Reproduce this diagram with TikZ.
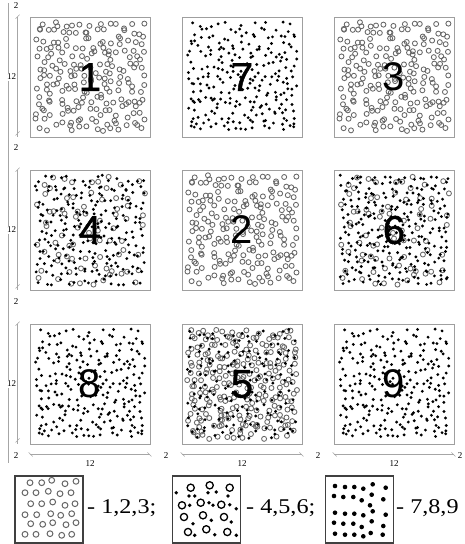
\documentclass[tikz,border=0pt]{standalone}
\usepackage{fontspec}
\setmainfont{Liberation Serif}
\newfontfamily\digitfont{Liberation Sans}
\newfontfamily\heavydigit[FakeBold=1.2]{Liberation Sans}
\newfontfamily\keyfont[FakeStretch=1.15]{Liberation Serif}

\tikzset{
  panel/.style={draw=gray!75, line width=0.8pt, minimum size=120pt, inner sep=0pt,
    font=\digitfont\fontsize{40}{40}\selectfont},
  heavy/.style={font=\heavydigit\fontsize{40}{40}\selectfont},
  ring/.style={draw=black!60, line width=0.85pt},
  speck/.style={fill=black},
  dimline/.style={draw=gray!70, line width=0.5pt},
  dimlabel/.style={font=\fontsize{9}{9}\selectfont, inner sep=1pt},
  keybox/.style={draw=black!75, line width=1.2pt, minimum width=68pt, minimum height=67pt, inner sep=0pt},
  keytext/.style={font=\keyfont\fontsize{21}{21}\selectfont, anchor=base west, inner sep=0pt},
}

% jittered grid of open rings inside a panel
\newcommand{\ringfield}[5]{% x0, y0, cells per side, seed, keep
  \pgfmathsetseed{#4}
  \pgfmathsetmacro{\cell}{110/#3}
  \foreach \i in {1,...,#3}{
    \foreach \j in {1,...,#3}{
      \pgfmathsetmacro{\px}{#1+5+(\i-1+rnd)*\cell}
      \pgfmathsetmacro{\py}{#2+5+(\j-1+rnd)*\cell}
      \pgfmathtruncatemacro{\keep}{rnd<#5}
      \ifnum\keep=1 \draw[ring] (\px,\py) circle[radius=2.5pt];\fi
    }}}
% jittered grid of filled dots inside a panel
\newcommand{\speckfield}[5]{% x0, y0, cells per side, seed, keep
  \pgfmathsetseed{#4}
  \pgfmathsetmacro{\cell}{110/#3}
  \foreach \i in {1,...,#3}{
    \foreach \j in {1,...,#3}{
      \pgfmathsetmacro{\px}{#1+5+(\i-1+rnd)*\cell}
      \pgfmathsetmacro{\py}{#2+5+(\j-1+rnd)*\cell}
      \pgfmathtruncatemacro{\keep}{rnd<#5}
      \ifnum\keep=1 \fill[speck] (\px,\py) circle[radius=1.6pt];\fi
    }}}

\begin{document}
\begin{tikzpicture}[x=1pt, y=-1pt]
  \useasboundingbox (0,0) rectangle (464,544);

  % rings only: 1, 2, 3
  \ringfield{30}{17}{15}{11}{0.9}
  \ringfield{182}{170}{15}{11}{0.9}
  \ringfield{334}{17}{15}{11}{0.9}
  % dots only: 7, 8, 9
  \speckfield{182}{17}{17}{7}{0.85}
  \speckfield{30}{324}{17}{7}{0.85}
  \speckfield{334}{324}{17}{7}{0.85}
  % mixed: 4, 6
  \ringfield{30}{170}{9}{4}{0.95}
  \speckfield{30}{170}{15}{5}{1}
  \ringfield{334}{170}{9}{4}{0.95}
  \speckfield{334}{170}{16}{6}{1}
  % dense mixed: 5
  \ringfield{182}{324}{16}{21}{0.95}
  \speckfield{182}{324}{13}{22}{1}

  % panels
  \node[panel, heavy] (p1) at (90,77) {1};
  \node[panel, heavy] (p7) at (242,77) {7};
  \node[panel] (p3) at (394,77) {3};
  \node[panel, heavy] (p4) at (90,230) {4};
  \node[panel] (p2) at (242,230) {2};
  \node[panel, heavy] (p6) at (394,230) {6};
  \node[panel] (p8) at (90,384) {8};
  \node[panel, heavy] (p5) at (242,384) {5};
  \node[panel] (p9) at (394,384) {9};

  % dimensions, left side
  \draw[dimline] (8,3) -- (8,463);
  \foreach \p in {p1,p4,p8}{
    \draw[dimline] ([xshift=-12pt]\p.north west) -- ([xshift=-12pt]\p.south west);
    \draw[dimline] ([xshift=-14pt,yshift=-2pt]\p.north west) -- ++(4,-4);
    \draw[dimline] ([xshift=-14pt,yshift=2pt]\p.south west) -- ++(4,-4);
    \node[dimlabel, fill=white] at ([xshift=-18pt]\p.west) {12};
  }
  \node[dimlabel] (g0) at (16,6) {2};
  \node[dimlabel] (g1) at (16,148) {2};
  \node[dimlabel] (g2) at (16,302) {2};

  % dimensions, bottom
  \foreach \p in {p8,p5,p9}{
    \draw[dimline] ([yshift=-10pt]\p.south west) -- ([yshift=-10pt]\p.south east);
    \draw[dimline] ([xshift=-1pt,yshift=-8pt]\p.south west) -- ++(4,4);
    \draw[dimline] ([xshift=-3pt,yshift=-8pt]\p.south east) -- ++(4,4);
    \node[dimlabel] at ([yshift=-19pt]\p.south) {12};
  }
  \node[dimlabel] (h0) at (16,456) {2};
  \node[dimlabel] (h1) at (166,456) {2};
  \node[dimlabel] (h2) at (318,456) {2};
  \node[dimlabel] (h3) at (460,456) {2};

  % key
  \node[keybox] (k1) at (49,509.5) {};
  \node[keybox] (k2) at (206.5,509.5) {};
  \node[keybox] (k3) at (359.5,509.5) {};
  \foreach \x/\y in {30/482.7,41.7/482.7,51.7/480.3,65/483.7,76/481.3,
      25/492.7,36/492.7,48.3/491.3,60/493.7,71/492.7,
      30.7/503.7,41.7/503.7,52.7/502,65/505.3,75/503.7,
      25/514.7,36.7/514.7,50.7/513.7,60.7/515.3,71.7/513.7,
      30.7/523.7,42.7/524.3,52.7/522.7,66/524.7,76/522.7,
      25/534.3,36/534.3,50/533.7,61.7/535.3,71.7/534.3}
    \draw[ring, line width=1pt] (\x,\y) circle[radius=2.9pt];
  \foreach \x/\y in {190.7/487.7,209.7/485.3,229.7/487.7,182/505.3,200.7/502.7,221.3/504.7,
      184/517,203/515.3,224/517,188/532,206.3/529.3,227.3/532}
    \draw[draw=black, line width=1.3pt] (\x,\y) circle[radius=3.6pt];
  \foreach \x/\y in {176.3/492.7,189/496,194.7/496,208/492.7,216.3/492,228/496,
      189.7/505.3,209/502.7,213/505.3,229.7/504.7,236.3/508.7,
      193/523.7,211.3/520.3,231.3/522,194.7/535.3,214.7/534.7,236.3/535.3}
    \fill[speck] (\x,\y) circle[radius=1.9pt];
  \foreach \x/\y in {335/486,345/487,354.3/487,363.3/488.7,372.7/484.3,385.7/487.7,
      334/496,343.3/497,353.3/497,361.7/500.3,371.7/494.7,383.3/499.3,370/505.3,
      335/512.7,345/513.7,354.3/513.7,363.3/515.3,372.7/511.3,385.7/514.7,
      334/522.7,343.3/523.7,353.3/523.7,361.7/527,371.7/521.3,383.3/526,
      335/533.7,345/534.7,354.3/534.7,363.3/536.3,370.7/533,382.7/534.7}
    \fill[speck] (\x,\y) circle[radius=2.3pt];
  \node[keytext] (t1) at (87,513.5) {- 1,2,3;};
  \node[keytext] (t2) at (246,513.5) {- 4,5,6;};
  \node[keytext] (t3) at (396,513.5) {- 7,8,9};
\end{tikzpicture}
\end{document}
